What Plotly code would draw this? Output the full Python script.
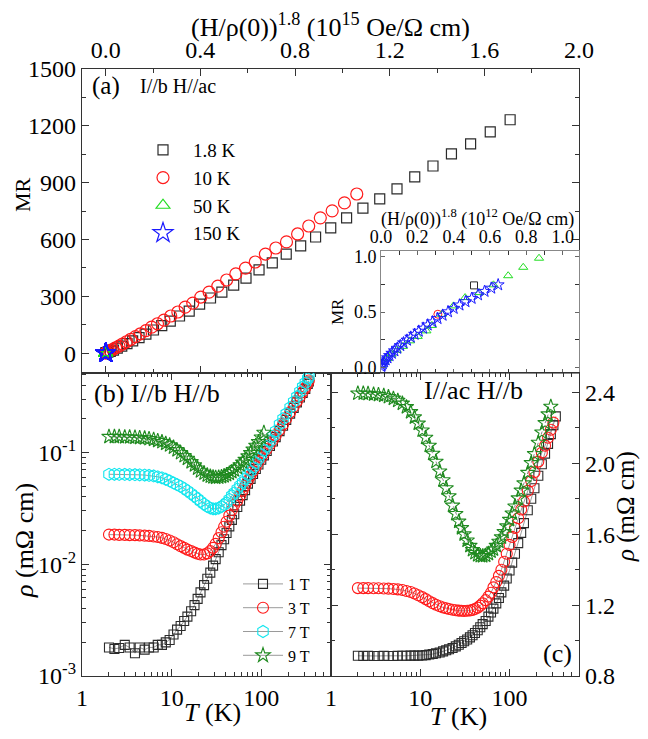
import plotly.graph_objects as go

# page is rendered with the default 8px body margin, so the figure is sized to fit inside it
W, H = 648, 739
OFF = 8
FW, FH = W - 2 * OFF, H - 2 * OFF
FONT = "Liberation Serif, Times New Roman, serif"

# ---------------- Panel (a): MR vs (H/rho(0))^1.8 (10^15 Oe/Ohm cm) ----------------
x_18K = [0.000512, 0.0027, 0.0094, 0.0195, 0.033, 0.049, 0.068, 0.090, 0.114, 0.141,
         0.170, 0.202, 0.237, 0.273, 0.312, 0.353, 0.397, 0.443, 0.491, 0.541,
         0.593, 0.648, 0.704, 0.763, 0.824, 0.887, 0.951, 1.018, 1.087, 1.158,
         1.231, 1.306, 1.383, 1.461, 1.542, 1.625, 1.709]
mr_18K = [0.74, 2.5, 5, 9, 16, 26, 37, 50, 65, 82,
          100, 122, 145, 169, 196, 222, 259, 291, 322, 359,
          396, 439, 476, 523, 566, 613, 661, 714, 766, 814,
          867, 930, 988, 1052, 1105, 1168, 1232]
x_10K = [0.000313, 0.002, 0.006, 0.012, 0.020, 0.030, 0.042, 0.056, 0.071, 0.088,
         0.106, 0.126, 0.147, 0.170, 0.194, 0.219, 0.246, 0.275, 0.305, 0.336,
         0.368, 0.402, 0.437, 0.474, 0.511, 0.550, 0.591, 0.632, 0.675, 0.719,
         0.764, 0.811, 0.858, 0.907, 0.957, 1.009, 1.061]
mr_10K = [0.48, 1.5, 4, 8, 13, 20, 28, 37, 48, 60,
          73, 87, 102, 119, 137, 155, 174, 196, 217, 243,
          264, 296, 322, 354, 386, 418, 449, 481, 523, 555,
          587, 629, 671, 714, 751, 793, 840]
# 50 K and 150 K, in units of 10^12 Oe/Ohm cm
x_50K = [0.005, 0.017, 0.035, 0.058, 0.087, 0.12, 0.159, 0.202, 0.25, 0.28,
         0.335, 0.399, 0.463, 0.541, 0.619, 0.70, 0.783, 0.870]
mr_50K = [0.02, 0.05, 0.08, 0.12, 0.155, 0.19, 0.24, 0.28, 0.33, 0.379,
          0.479, 0.555, 0.63, 0.675, 0.745, 0.827, 0.903, 0.985]
x_150K = [0.0014, 0.0049, 0.0102, 0.0172, 0.0256, 0.0356, 0.047, 0.0597, 0.0739, 0.0893,
          0.106, 0.124, 0.143, 0.164, 0.185, 0.208, 0.232, 0.257, 0.283, 0.311,
          0.339, 0.369, 0.400, 0.432, 0.465, 0.499, 0.534, 0.570, 0.607, 0.645]
mr_150K = [0.008, 0.02, 0.034, 0.05, 0.068, 0.087, 0.107, 0.128, 0.15, 0.173,
           0.197, 0.222, 0.246, 0.273, 0.299, 0.327, 0.354, 0.383, 0.411, 0.441,
           0.471, 0.502, 0.533, 0.563, 0.593, 0.623, 0.655, 0.686, 0.715, 0.745]

# ---------------- Panel (b): rho vs T, I//b H//b ----------------
T_b = [2, 2.3, 2.6, 3, 3.4, 3.9, 4.4, 5, 5.6, 6.3,
       7, 7.8, 8.6, 9.5, 10.5, 11.5, 12.6, 13.8, 15, 16.5,
       18, 19.5, 21, 23, 25, 27, 29, 31, 33.5, 36,
       38.5, 41, 44, 47, 50, 54, 58, 62, 66, 71,
       76, 81, 87, 93, 100, 107, 115, 125, 135, 145,
       160, 175, 190, 210, 230, 250, 270, 290, 310, 330, 340]
rho_b_1T = [0.0018, 0.00175, 0.00178, 0.0019, 0.0018, 0.0016, 0.0018, 0.00172, 0.0018, 0.0018,
            0.0019, 0.0019, 0.002, 0.0021, 0.00235, 0.0026, 0.0028, 0.0031, 0.0034, 0.0038,
            0.0043, 0.0049, 0.0056, 0.0065, 0.0074, 0.0084, 0.0097, 0.0111, 0.0128, 0.0148,
            0.0167, 0.019, 0.0218, 0.0249, 0.028, 0.0325, 0.037, 0.0415, 0.046, 0.0525,
            0.058, 0.064, 0.071, 0.078, 0.086, 0.094, 0.103, 0.114, 0.125, 0.137,
            0.155, 0.173, 0.195, 0.222, 0.25, 0.28, 0.31, 0.34, 0.37, 0.41, 0.43]
rho_b_3T = [0.0184, 0.0184, 0.0183, 0.0183, 0.0182, 0.0182, 0.0181, 0.018, 0.0179, 0.0177,
            0.0175, 0.0172, 0.0168, 0.0163, 0.0157, 0.0151, 0.0145, 0.014, 0.0135, 0.0131,
            0.0127, 0.0124, 0.0122, 0.0122, 0.0125, 0.0131, 0.014, 0.0152, 0.0171, 0.0193,
            0.0216, 0.024, 0.0272, 0.0305, 0.034, 0.037, 0.041, 0.0455, 0.05, 0.056,
            0.062, 0.068, 0.075, 0.082, 0.09, 0.098, 0.107, 0.118, 0.129, 0.141,
            0.159, 0.178, 0.2, 0.228, 0.256, 0.286, 0.316, 0.346, 0.376, 0.415, 0.44]
rho_b_7T = [0.0637, 0.0637, 0.0636, 0.0635, 0.0634, 0.0632, 0.063, 0.0627, 0.0622, 0.0615,
            0.0605, 0.0592, 0.0575, 0.0555, 0.0533, 0.0515, 0.0497, 0.0475, 0.0453, 0.0428,
            0.0405, 0.0385, 0.0365, 0.0345, 0.0328, 0.0318, 0.0313, 0.0313, 0.0318, 0.0328,
            0.034, 0.0355, 0.038, 0.041, 0.0435, 0.047, 0.0505, 0.054, 0.058, 0.063,
            0.068, 0.0735, 0.0805, 0.0875, 0.096, 0.104, 0.113, 0.126, 0.14, 0.155,
            0.178, 0.2, 0.222, 0.252, 0.283, 0.315, 0.35, 0.385, 0.42, 0.455, 0.475]
T_b_9T = [2, 2.3, 2.6, 3, 3.4, 3.9, 4.4, 5, 5.6, 6.3,
          7, 7.8, 8.6, 9.5, 10.5, 11.5, 12.6, 13.8, 15, 16.5,
          18, 19.5, 21, 23, 25, 27, 29, 31, 33.5, 36,
          38.5, 41, 44, 47, 50, 54, 58, 62, 66, 71,
          76, 81, 87, 93, 100, 107]
rho_b_9T = [0.138, 0.138, 0.138, 0.137, 0.137, 0.136, 0.135, 0.134, 0.132, 0.13,
            0.127, 0.124, 0.12, 0.116, 0.111, 0.105, 0.099, 0.093, 0.088, 0.082,
            0.077, 0.072, 0.068, 0.065, 0.0625, 0.061, 0.06, 0.0596, 0.0598, 0.0605,
            0.0615, 0.063, 0.0648, 0.067, 0.0695, 0.073, 0.077, 0.0815, 0.086, 0.0925,
            0.099, 0.106, 0.115, 0.124, 0.136, 0.15]

# ---------------- Panel (c): rho vs T, I//ac H//b ----------------
T_c = [2, 2.3, 2.6, 3, 3.4, 3.9, 4.4, 5, 5.6, 6.3,
       7, 7.8, 8.6, 9.5, 10.5, 11.5, 12.6, 13.8, 15, 16.5,
       18, 19.5, 21, 23, 25, 27, 29, 31, 33.5, 36,
       38.5, 41, 44, 47, 50, 54, 58, 62, 66, 71,
       76, 81, 87, 93, 100, 107, 115, 125, 135, 145,
       160, 175, 190, 210, 230, 250, 270, 290, 310, 330]
rho_c_1T = [0.914, 0.913, 0.914, 0.913, 0.913, 0.914, 0.913, 0.913, 0.914, 0.914,
            0.914, 0.915, 0.915, 0.915, 0.916, 0.918, 0.921, 0.924, 0.928, 0.933,
            0.939, 0.945, 0.951, 0.958, 0.967, 0.976, 0.986, 0.996, 1.006, 1.018,
            1.03, 1.043, 1.058, 1.075, 1.093, 1.11, 1.135, 1.158, 1.18, 1.21,
            1.24, 1.272, 1.31, 1.35, 1.395, 1.44, 1.49, 1.55, 1.608, 1.663,
            1.735, 1.8, 1.86, 1.93, 1.995, 2.055, 2.11, 2.165, 2.215, 2.265]
rho_c_3T = [1.296, 1.296, 1.296, 1.295, 1.295, 1.294, 1.293, 1.291, 1.289, 1.285,
            1.28, 1.274, 1.266, 1.256, 1.245, 1.234, 1.222, 1.211, 1.202, 1.194,
            1.187, 1.182, 1.178, 1.174, 1.171, 1.169, 1.168, 1.167, 1.168, 1.17,
            1.173, 1.178, 1.186, 1.197, 1.21, 1.228, 1.248, 1.27, 1.3, 1.33,
            1.365, 1.40, 1.445, 1.49, 1.54, 1.585, 1.635, 1.69, 1.74, 1.785,
            1.845, 1.9, 1.95, 2.01, 2.06, 2.1, 2.145, 2.19, 2.23]
rho_c_9T = [2.395, 2.395, 2.393, 2.39, 2.387, 2.382, 2.375, 2.366, 2.354, 2.338,
            2.318, 2.29, 2.26, 2.225, 2.186, 2.145, 2.1, 2.055, 2.01, 1.955,
            1.905, 1.86, 1.815, 1.762, 1.715, 1.672, 1.635, 1.6, 1.565, 1.535,
            1.512, 1.495, 1.483, 1.478, 1.477, 1.48, 1.49, 1.503, 1.515, 1.535,
            1.558, 1.583, 1.613, 1.645, 1.682, 1.718, 1.757, 1.803, 1.847, 1.888,
            1.947, 2.002, 2.053, 2.117, 2.175, 2.228, 2.277, 2.32]

# ---------------- styles ----------------
C_BLK, C_RED, C_GRN, C_BLU = "#2b2b2b", "#ff1a1a", "#22dd22", "#1a1aff"
C_CYAN, C_DGRN = "#11e6ee", "#1f8a1f"
LINE_GRAY = "#808080"


def px(x):
    return (x - OFF) / FW


def py(y):
    return 1 - (y - OFF) / FH


fig = go.Figure()


def mk(symbol, color, size, width=1.2):
    return dict(symbol=symbol, size=size, color=color, line=dict(color=color, width=width))


# panel (a)
fig.add_trace(go.Scatter(x=x_18K, y=mr_18K, mode="markers", name="1.8 K",
                         marker=mk("square-open", C_BLK, 10), xaxis="x", yaxis="y"))
fig.add_trace(go.Scatter(x=x_10K, y=mr_10K, mode="markers", name="10 K",
                         marker=mk("circle-open", C_RED, 12), xaxis="x", yaxis="y"))
fig.add_trace(go.Scatter(x=[v / 1000 for v in x_50K], y=mr_50K, mode="markers", name="50 K",
                         marker=mk("triangle-up-open", C_GRN, 12), xaxis="x", yaxis="y"))
fig.add_trace(go.Scatter(x=[v / 1000 for v in x_150K], y=mr_150K, mode="markers", name="150 K",
                         marker=mk("star-open", C_BLU, 15), xaxis="x", yaxis="y"))

# inset (10^12 units)
ins_18 = [(v * 1000, m) for v, m in zip(x_18K, mr_18K) if v * 1000 <= 1.09]
ins_10 = [(v * 1000, m) for v, m in zip(x_10K, mr_10K) if v * 1000 <= 1.09]
fig.add_trace(go.Scatter(x=[p[0] for p in ins_18], y=[p[1] for p in ins_18], mode="markers",
                         showlegend=False, marker=mk("square-open", C_BLK, 7, 1),
                         xaxis="x2", yaxis="y2"))
fig.add_trace(go.Scatter(x=[p[0] for p in ins_10], y=[p[1] for p in ins_10], mode="markers",
                         showlegend=False, marker=mk("circle-open", C_RED, 8, 1),
                         xaxis="x2", yaxis="y2"))
fig.add_trace(go.Scatter(x=x_50K, y=mr_50K, mode="markers", showlegend=False,
                         marker=mk("triangle-up-open", C_GRN, 8, 1), xaxis="x2", yaxis="y2"))
fig.add_trace(go.Scatter(x=x_150K, y=mr_150K, mode="markers", showlegend=False,
                         marker=mk("star-open", C_BLU, 9, 1), xaxis="x2", yaxis="y2"))

# panel (b)
lw = dict(color=LINE_GRAY, width=0.8)
fig.add_trace(go.Scatter(x=T_b, y=rho_b_1T, mode="lines+markers", name="1 T", line=lw,
                         marker=mk("square-open", C_BLK, 9, 1.1), xaxis="x3", yaxis="y3",
                         legend="legend2"))
fig.add_trace(go.Scatter(x=T_b, y=rho_b_3T, mode="lines+markers", name="3 T", line=lw,
                         marker=mk("circle-open", C_RED, 11, 1.1), xaxis="x3", yaxis="y3",
                         legend="legend2"))
fig.add_trace(go.Scatter(x=T_b, y=rho_b_7T, mode="lines+markers", name="7 T", line=lw,
                         marker=mk("hexagon-open", C_CYAN, 12, 1.1), xaxis="x3", yaxis="y3",
                         legend="legend2"))
fig.add_trace(go.Scatter(x=T_b_9T, y=rho_b_9T, mode="lines+markers", name="9 T", line=lw,
                         marker=mk("star-open", C_DGRN, 11, 1.1), xaxis="x3", yaxis="y3",
                         legend="legend2"))

# panel (c)
fig.add_trace(go.Scatter(x=T_c, y=rho_c_1T, mode="lines+markers", showlegend=False, line=lw,
                         marker=mk("square-open", C_BLK, 9, 1.1), xaxis="x4", yaxis="y4"))
fig.add_trace(go.Scatter(x=T_c[:len(rho_c_3T)], y=rho_c_3T, mode="lines+markers", showlegend=False,
                         line=lw, marker=mk("circle-open", C_RED, 11, 1.1), xaxis="x4", yaxis="y4"))
fig.add_trace(go.Scatter(x=T_c[:len(rho_c_9T)], y=rho_c_9T, mode="lines+markers", showlegend=False,
                         line=dict(color="#555555", width=0.7, dash="dot"),
                         marker=mk("star-open", C_DGRN, 11, 1.1), xaxis="x4", yaxis="y4"))


def ax(**kw):
    base = dict(showline=True, linecolor="#333333", linewidth=1.2, mirror="ticks",
                ticks="inside", ticklen=7, tickwidth=1.1, tickcolor="#333333",
                showgrid=False, zeroline=False, automargin=False,
                tickfont=dict(family=FONT, size=24, color="black"))
    base.update(kw)
    return base


minor_lin = lambda d: dict(ticks="inside", ticklen=4, tickwidth=1, tickcolor="#333333", dtick=d, showgrid=False)
minor_T = dict(ticks="inside", ticklen=4, tickwidth=1, tickcolor="#333333", showgrid=False,
               tickmode="array",
               tickvals=[2, 3, 4, 5, 6, 7, 8, 9, 20, 30, 40, 50, 60, 70, 80, 90, 200, 300, 400, 500])
minor_rho = dict(ticks="inside", ticklen=4, tickwidth=1, tickcolor="#333333", showgrid=False,
                 tickmode="array",
                 tickvals=[0.002, 0.003, 0.004, 0.005, 0.006, 0.007, 0.008, 0.009,
                           0.02, 0.03, 0.04, 0.05, 0.06, 0.07, 0.08, 0.09, 0.2, 0.3, 0.4, 0.5])

XA = [px(82), px(579)]
XB = [px(82), px(331)]
XC = [px(331), px(579)]
YA = [py(373), py(69)]
YBC = [py(676), py(373)]
INS_FONT = dict(family=FONT, size=18, color="black")

fig.update_layout(
    template="none",
    width=FW, height=FH, margin=dict(l=0, r=0, t=0, b=0, pad=0), autosize=False,
    paper_bgcolor="white", plot_bgcolor="white",
    font=dict(family=FONT, color="black"),
    xaxis=ax(domain=XA, anchor="y", side="top", range=[-0.1, 2.0], tick0=0, dtick=0.4,
             tickformat=".1f", minor=minor_lin(0.2)),
    yaxis=ax(domain=YA, anchor="x", range=[-105, 1500], tick0=0, dtick=300, minor=minor_lin(150)),
    xaxis2=ax(domain=[px(381), px(579)], anchor="y2", side="top", range=[0, 1.09], tick0=0, dtick=0.2,
              tickformat=".1f", linecolor="#888888", linewidth=1, ticklen=4, tickcolor="#666666",
              tickfont=INS_FONT, minor=minor_lin(0.1)),
    yaxis2=ax(domain=[py(373), py(251)], anchor="x2", range=[-0.05, 1.05], tick0=0, dtick=0.5,
              tickformat=".1f", linecolor="#888888", linewidth=1, ticklen=4, tickcolor="#666666",
              tickfont=INS_FONT, minor=minor_lin(0.25)),
    xaxis3=ax(domain=XB, anchor="y3", type="log", range=[0, 2.778], tickmode="array",
              tickvals=[1, 10, 100], ticktext=["1", "10", "100"], minor=minor_T),
    yaxis3=ax(domain=YBC, anchor="x3", type="log", range=[-3, -0.29], tickmode="array",
              tickvals=[0.001, 0.01, 0.1],
              ticktext=["10<sup>-3</sup>", "10<sup>-2</sup>", "10<sup>-1</sup>"], minor=minor_rho),
    xaxis4=ax(domain=XC, anchor="y4", type="log", range=[0, 2.778], tickmode="array",
              tickvals=[1, 10, 100], ticktext=["1", "10", "100"], minor=minor_T),
    yaxis4=ax(domain=YBC, anchor="x4", side="right", range=[0.8, 2.51], tick0=0.8, dtick=0.4,
              tickformat=".1f", minor=minor_lin(0.2)),
    legend=dict(x=px(133), y=py(131), xanchor="left", yanchor="top", bgcolor="rgba(0,0,0,0)",
                font=dict(family=FONT, size=19, color="black"), itemwidth=50, itemsizing="trace",
                tracegroupgap=0, borderwidth=0),
    legend2=dict(x=px(238), y=py(567), xanchor="left", yanchor="top", bgcolor="rgba(0,0,0,0)",
                 font=dict(family=FONT, size=16, color="black"), itemwidth=40, itemsizing="trace",
                 tracegroupgap=0, borderwidth=0),
)


def ann(x, y, text, size, xanchor="center", angle=0):
    fig.add_annotation(x=px(x), y=py(y), xref="paper", yref="paper", text=text, showarrow=False,
                       xanchor=xanchor, yanchor="middle", textangle=angle,
                       font=dict(family=FONT, size=size, color="black"))


ann(330, 25, "(H/ρ(0))<sup>1.8</sup> (10<sup>15</sup> Oe/Ω cm)", 26)
ann(90, 86, "(a)", 25, "left")
ann(138, 86, "I//b H//ac", 20, "left")
ann(23, 195, "MR", 22, angle=-90)
ann(477, 218, "(H/ρ(0))<sup>1.8</sup> (10<sup>12</sup> Oe/Ω cm)", 18)
ann(337, 312, "MR", 17, angle=-90)
ann(92, 393, "(b) I//b H//b", 26, "left")
ann(473, 390, "I//ac H//b", 26)
ann(557, 653, "(c)", 26)
ann(24, 541, "<i>ρ</i> (mΩ cm)", 26, angle=-90)
ann(626, 507, "<i>ρ</i> (mΩ cm)", 25, angle=-90)
ann(212, 712, "<i>T</i> (K)", 26)
ann(458, 716, "<i>T</i> (K)", 26)

fig.write_html("out.html")
